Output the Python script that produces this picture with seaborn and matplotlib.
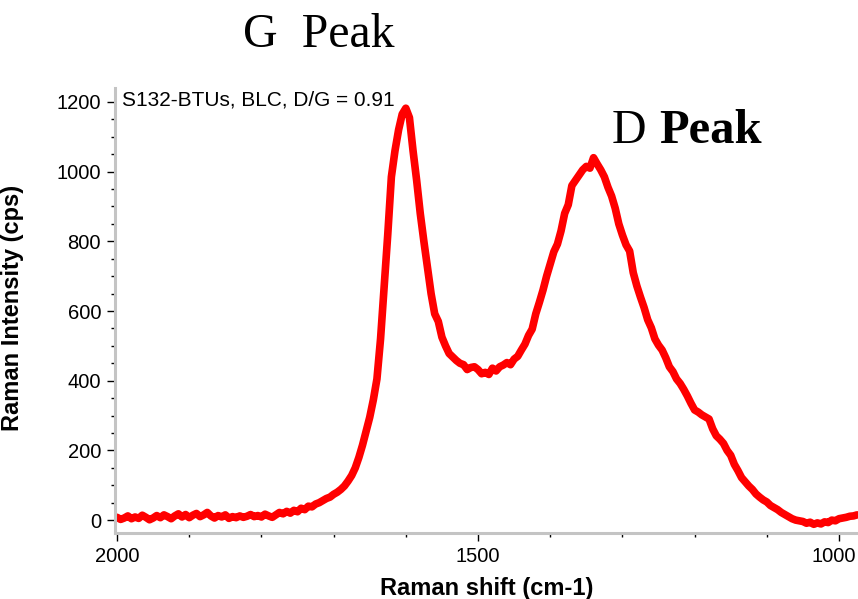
import numpy as np
import pandas as pd
import matplotlib
matplotlib.use("Agg")
import matplotlib.pyplot as plt
import matplotlib.transforms as mtransforms
import seaborn as sns

# Raman spectrum, every 5 cm-1 from 2000 down to 975
shift = np.arange(2000, 974, -5)
intensity = [
    8, 2, 6, 12, 4, 9, 5, 14, 8, 1,                      # 2000-1955
    6, 13, 7, 15, 10, 4, 12, 18, 9, 16,                  # 1950-1905
    7, 14, 19, 10, 15, 22, 12, 6, 13, 9,                 # 1900-1855
    15, 5, 10, 7, 12, 8, 11, 16, 10, 13,                 # 1850-1805
    9, 17, 12, 8, 15, 22, 18, 25, 20, 28,                # 1800-1755
    24, 34, 30, 40, 38, 46, 50, 56, 62, 66,              # 1750-1705
    74, 80, 88, 98, 112, 128, 150, 180, 215, 255,        # 1700-1655
    295, 345, 405, 520, 670, 820, 985, 1060, 1120, 1165,  # 1650-1605
    1182, 1155, 1060, 975, 880, 800, 725, 650, 592, 570,  # 1600-1555
    525, 500, 478, 468, 458, 450, 446, 432, 438, 440,    # 1550-1505
    432, 420, 424, 418, 436, 428, 440, 445, 452, 446,    # 1500-1455
    462, 470, 488, 505, 530, 548, 592, 625, 660, 700,    # 1450-1405
    735, 770, 792, 830, 880, 905, 960, 975, 990, 1005,   # 1400-1355
    1015, 1010, 1040, 1022, 1005, 985, 955, 930, 895, 850,  # 1350-1305
    818, 790, 772, 710, 672, 640, 610, 575, 552, 520,    # 1300-1255
    502, 488, 466, 440, 426, 405, 392, 375, 356, 335,    # 1250-1205
    316, 310, 302, 296, 290, 262, 242, 232, 220, 200,    # 1200-1155
    186, 160, 142, 122, 110, 98, 88, 75, 66, 58,         # 1150-1105
    52, 42, 36, 30, 22, 16, 10, 4, 0, -2,                # 1100-1055
    -4, -9, -6, -12, -8, -11, -5, -7, 0, -2,             # 1050-1005
    4, 6, 8, 11, 12, 15,                                 # 1000-975
]

x_ticks = [2000, 1500, 1000]
y_ticks = [0, 200, 400, 600, 800, 1000, 1200]

df = pd.DataFrame({"shift": shift, "intensity": intensity})

sns.set_style("white")
plt.rcParams['font.family'] = ['Liberation Sans', 'DejaVu Sans']
plt.rcParams['text.color'] = 'black'
plt.rcParams['axes.labelcolor'] = 'black'
plt.rcParams['xtick.color'] = 'black'
plt.rcParams['ytick.color'] = 'black'

W, H = 858, 599
fig = plt.figure(figsize=(W / 100, H / 100), dpi=100)
ax = fig.add_axes([115 / W, 1 - 533 / H, 1 - 115 / W, (533 - 88) / H])

sns.lineplot(data=df, x="shift", y="intensity", sort=False, color="#ff0000",
             linewidth=5.5, ax=ax)

ax.set_xlim(2002.8, 973.7)
ax.set_ylim(-37, 1240)
ax.set_xticks(x_ticks)
ax.set_xticks(np.arange(1900, 999, -100), minor=True)
ax.set_yticks(y_ticks)
ax.set_yticks(np.arange(50, 1250, 50), minor=True)
ax.tick_params(axis="both", which="major", direction="out", length=6,
               width=1, color="black", labelsize=14.5, pad=4)
ax.tick_params(axis="both", which="minor", direction="out", length=3,
               width=1, color="black")
ax.tick_params(axis="both", which="both", bottom=True, left=True)

# pull the last x tick label in a little so it stays inside the figure
last = ax.get_xticklabels()[-1]
last.set_transform(last.get_transform() +
                   mtransforms.ScaledTranslation(-4 / 72, 0, fig.dpi_scale_trans))

for side in ["top", "right"]:
    ax.spines[side].set_visible(False)
for side in ["left", "bottom"]:
    ax.spines[side].set_color("#c4c4c4")
    ax.spines[side].set_linewidth(2.2)

ax.set_xlabel("Raman shift (cm-1)", fontsize=17, fontweight="bold", labelpad=8)
ax.set_ylabel("Raman Intensity (cps)", fontsize=17, fontweight="bold")
ax.yaxis.set_label_coords(-0.123, 0.506)

fig.text(122 / W, 1 - 100 / H, "S132-BTUs, BLC, D/G = 0.91", fontsize=15,
         ha="left", va="center")

serif = ["Liberation Serif", "DejaVu Serif"]
fig.text(243 / W, 1 - 47 / H, "G  Peak", fontsize=34.5, family=serif,
         ha="left", va="baseline")
fig.text(612 / W, 1 - 143 / H, "D", fontsize=34.5, family=serif,
         ha="left", va="baseline")
fig.text(659 / W, 1 - 143 / H, "Peak", fontsize=35, fontweight="bold",
         family=serif, ha="left", va="baseline")

fig.savefig("out.png", dpi=100)
